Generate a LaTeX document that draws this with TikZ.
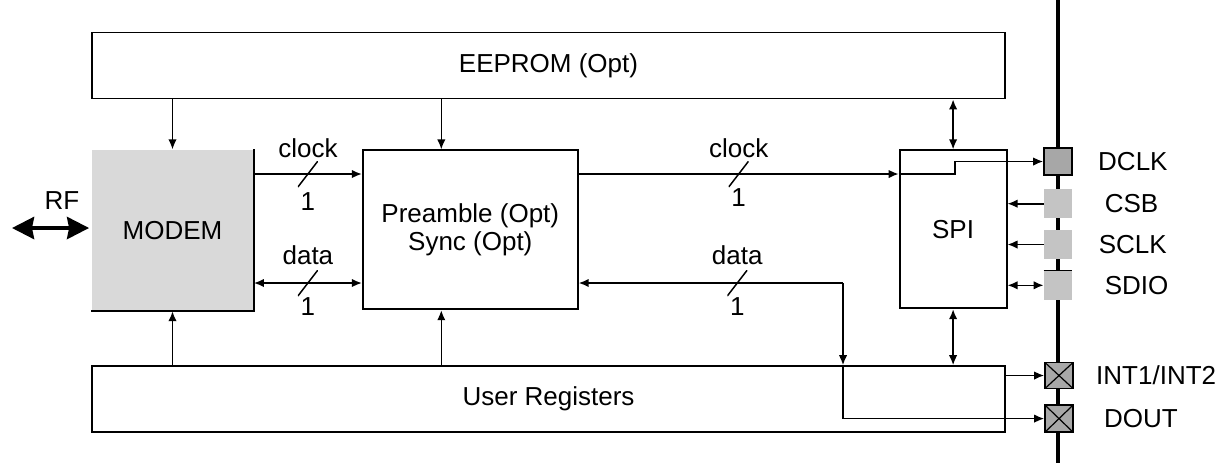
\documentclass[tikz,border=0pt]{standalone}
\usepackage{fontspec}
\setmainfont{Liberation Sans}
\usepackage{tikz}
\usetikzlibrary{arrows, arrows.meta, positioning, calc}

\definecolor{modemgray}{gray}{0.85}
\definecolor{padgray}{gray}{0.77}
\definecolor{xgray}{gray}{0.66}

\tikzset{
  blk/.style={draw, line width=0.9pt, inner sep=0pt},
  padbox/.style={fill=padgray, minimum width=14pt, minimum height=14.5pt, inner sep=0pt},
  xpadbox/.style={draw, line width=0.8pt, fill=xgray, minimum width=14pt, minimum height=13pt, inner sep=0pt,
    path picture={\draw[-, line width=0.6pt] (path picture bounding box.north west) -- (path picture bounding box.south east)
      (path picture bounding box.south west) -- (path picture bounding box.north east);}},
  buswidth/.style={minimum width=10pt, minimum height=13pt, inner sep=0pt,
    path picture={\draw[-, line width=0.75pt] (path picture bounding box.south west) -- (path picture bounding box.north east);}},
  sig/.style={line width=0.8pt, -{Latex[length=5pt, width=4.2pt]}},
  bisig/.style={line width=0.8pt, {Latex[length=5pt, width=4.2pt]}-{Latex[length=5pt, width=4.2pt]}},
  pinlbl/.style={inner sep=0pt},
}

\begin{document}
\begin{tikzpicture}[x=0.5pt, y=-0.5pt, font=\fontsize{13}{15.6}\selectfont]
        \useasboundingbox (0,0) rectangle (1221,463);

        % blocks
        \node (eeprom) [blk, minimum width=456.5pt, minimum height=33pt] at (548.5, 65.5) {EEPROM (Opt)};
        \node (modem) [fill=modemgray, inner sep=0pt, minimum width=81pt, minimum height=80.5pt,
                       below=25pt of eeprom.south west, anchor=north west] {MODEM};
        \draw[line width=0.9pt] (modem.north east) -- (modem.south east) -- (modem.south west);
        \node (pre) [blk, minimum width=107.5pt, minimum height=79.5pt, align=center, font=\fontsize{13}{14}\selectfont,
                     right=54pt of modem.north east, anchor=north west] {Preamble (Opt)\\Sync (Opt)};
        \node (spi) [blk, minimum width=53.5pt, minimum height=79pt,
                     right=160pt of pre.north east, anchor=north west] {SPI};
        \node (regs) [blk, minimum width=456.5pt, minimum height=33pt,
                      below=27pt of modem.south west, anchor=north west] {User Registers};

        % pins on the bus
        \coordinate (bustop) at (1058, 0);
        \coordinate (busbot) at (1058, 463);
        \draw[line width=1.6pt] (bustop) -- (busbot);
        \node (dclk) [padbox, draw, line width=0.8pt, fill=padgray!85!black, minimum height=13.5pt] at (1058, 161.5) {};
        \node (csb) [padbox, below=6.5pt of dclk] {};
        \node (sclk) [padbox, below=5.5pt of csb] {};
        \node (sdio) [padbox, below=5.5pt of sclk] {};
        \draw[line width=0.8pt] (sdio.north west) -- (sdio.north east);
        \node (int) [xpadbox] at (1059, 375.5) {};
        \node (dout) [xpadbox, minimum height=13.5pt, below=7.5pt of int] {};

        \node [pinlbl, right=12.5pt of dclk] {DCLK};
        \node [pinlbl, right=16pt of csb] {CSB};
        \node [pinlbl, right=13pt of sclk] {SCLK};
        \node [pinlbl, right=16pt of sdio] {SDIO};
        \node [pinlbl, right=11pt of int] {INT1/INT2};
        \node [pinlbl, right=15pt of dout] {DOUT};

        % RF port
        \node (rf) at (62, 201) {RF};
        \coordinate (rfend) at (12, 228);
        \draw[{Stealth[length=11pt, width=11pt, inset=1pt]}-{Stealth[length=11pt, width=11pt, inset=1pt]}, line width=2pt]
          (rfend) -- ([xshift=-1pt]modem.west |- rfend);

        % EEPROM and user register taps
        \coordinate (pretop) at ([xshift=-14.5pt]pre.north);
        \coordinate (prebot) at ([xshift=-14.5pt]pre.south);
        \draw[sig] (eeprom.south -| modem.north) -- (modem.north);
        \draw[sig] (eeprom.south -| pretop) -- (pretop);
        \draw[bisig] (eeprom.south -| spi.north) -- (spi.north);
        \draw[sig] (regs.north -| modem.south) -- (modem.south);
        \draw[sig] (regs.north -| prebot) -- (prebot);
        \draw[bisig] (spi.south) -- (spi.south |- regs.north);

        % clock and data
        \coordinate (clk) at (0, 174);
        \coordinate (dat) at (0, 283);
        \coordinate (dj) at (843, 283);
        \draw[sig] (modem.east |- clk) -- node[buswidth] {} node[yshift=13pt] {clock} node[yshift=-14pt] {1} (pre.west |- clk);
        \draw[bisig] (modem.east |- dat) -- node[buswidth] {} node[yshift=14pt] {data} node[yshift=-12pt] {1} (pre.west |- dat);
        \draw[sig] (pre.east |- clk) -- node[buswidth] {} node[yshift=13pt] {clock} node[yshift=-12pt] {1} (spi.west |- clk);
        \draw[sig] (spi.west |- clk) -- ++(56, 0) |- (dclk.west);
        \draw[sig] (dj) -- node[pos=.4, buswidth] {} node[pos=.4, yshift=14pt] {data} node[pos=.4, yshift=-12pt] {1} (pre.east |- dat);
        \draw[sig] (dj) -- (dj |- regs.north);
        \draw[sig] (dj |- regs.north) |- (dout.west);

        % serial pins and outputs
        \draw[sig] (csb.west) -- (csb.west -| spi.east);
        \draw[sig] (sclk.west) -- (sclk.west -| spi.east);
        \draw[bisig] (sdio.west) -- (sdio.west -| spi.east);
        \draw[sig] (int.west -| regs.east) -- (int.west);
      \end{tikzpicture}
\end{document}
